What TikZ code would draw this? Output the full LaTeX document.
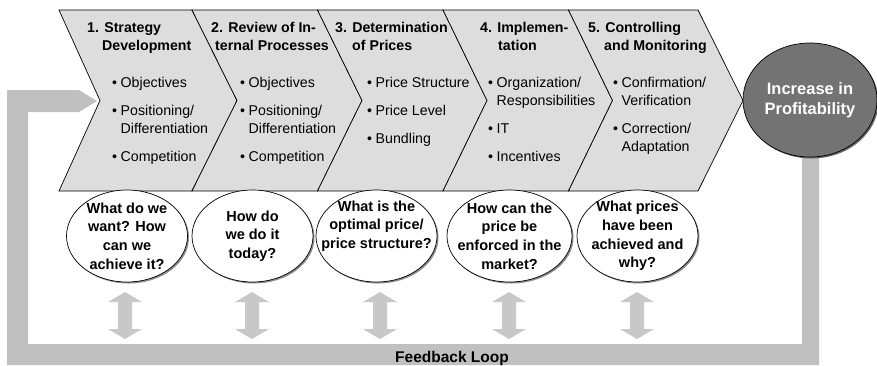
\documentclass[tikz,border=0pt]{standalone}
\usepackage{fontspec}
\setmainfont{Liberation Sans}
\usetikzlibrary{shapes.geometric,shadows}
\definecolor{chev}{HTML}{DDDDDD}
\definecolor{band}{HTML}{C0C0C0}
\definecolor{darr}{HTML}{C8C8C8}
\definecolor{prof}{HTML}{737373}
\newcommand{\lst}[1]{\begin{tabular}[t]{@{}l@{}}#1\end{tabular}}
\newcommand{\bu}{\makebox[8.5pt][l]{\textbullet}}
\newcommand{\bi}{\hspace*{8.5pt}}
\newcommand{\dblarrow}[2]{\fill[darr] (#1-7,302) -- (#1-17,302) -- (#1,292) -- (#1+17,302) -- (#1+7,302) -- (#1+7,329) -- (#1+17,329) -- (#1,339) -- (#1-17,329) -- (#1-7,329) -- cycle;}
\begin{document}
\begin{tikzpicture}[x=1pt,y=-1pt,
  chevbox/.style={fill=chev,draw=black,line width=0.7pt,line join=miter},
  hdtxt/.style={anchor=base west,inner sep=0pt,font=\fontsize{14.2}{18}\selectfont\bfseries},
  itm/.style={anchor=base west,inner sep=0pt,font=\fontsize{14.2}{18}\selectfont},
  qell/.style={ellipse,draw=black,fill=white,line width=0.7pt,minimum width=121pt,minimum height=92pt,inner sep=0pt,
    drop shadow={shadow xshift=1.5pt,shadow yshift=-1.5pt,fill=black!45,opacity=1}},
  qtext/.style={align=center,inner sep=0pt,font=\fontsize{14.5}{18.7}\selectfont\bfseries},
  profell/.style={ellipse,draw=black,fill=prof,line width=0.7pt,minimum width=134pt,minimum height=114pt,inner sep=0pt,
    align=center,text=white,font=\fontsize{16.5}{20}\selectfont\bfseries,
    drop shadow={shadow xshift=1.5pt,shadow yshift=-1.5pt,fill=black!60,opacity=1}},
  fbtxt/.style={anchor=base,inner sep=0pt,font=\fontsize{15.5}{18}\selectfont\bfseries}
]
\useasboundingbox (0,0) rectangle (877,365);
% feedback loop band
\fill[band] (7,90) -- (79,90) -- (97,101) -- (79,112) -- (28,112) -- (28,344) -- (802,344) -- (802,140) -- (819,140) -- (819,365) -- (7,365) -- cycle;
% chevrons
\draw[chevbox] (59,10) -- (192,10) -- (237,100.5) -- (192,191) -- (59,191) -- (100,100.5) -- cycle;
\draw[chevbox] (192,10) -- (317.5,10) -- (362,100.5) -- (317.5,191) -- (192,191) -- (237,100.5) -- cycle;
\draw[chevbox] (317.5,10) -- (443,10) -- (487,100.5) -- (443,191) -- (317.5,191) -- (362,100.5) -- cycle;
\draw[chevbox] (443,10) -- (568.5,10) -- (612.5,100.5) -- (568.5,191) -- (443,191) -- (487,100.5) -- cycle;
\draw[chevbox] (568.5,10) -- (698,10) -- (743,100.5) -- (698,191) -- (568.5,191) -- (612.5,100.5) -- cycle;
% chevron texts
\node[hdtxt] (h1) at (87,32) {\lst{1. Strategy\\\hspace*{15pt}Development}};
\node[itm] (a1) at (112,87) {\bu Objectives};
\node[itm] (b1) at (112,115) {\lst{\bu Positioning/\\\bi Differentiation}};
\node[itm] (c1) at (112,161) {\bu Competition};
\node[hdtxt] (h2) at (211,32) {\lst{2. Review of In-\\\hspace*{4pt}ternal Processes}};
\node[itm] (a2) at (240,87) {\bu Objectives};
\node[itm] (b2) at (240,115) {\lst{\bu Positioning/\\\bi Differentiation}};
\node[itm] (c2) at (240,161) {\bu Competition};
\node[hdtxt] (h3) at (335,32) {\lst{3. Determination\\\hspace*{17pt}of Prices}};
\node[itm] (a3) at (367,87) {\bu Price Structure};
\node[itm] (b3) at (367,115) {\bu Price Level};
\node[itm] (c3) at (367,143) {\bu Bundling};
\node[hdtxt] (h4) at (480,32) {\lst{4. Implemen-\\\hspace*{18pt}tation}};
\node[itm] (a4) at (488,87) {\lst{\bu Organization/\\\bi Responsibilities}};
\node[itm] (b4) at (488,133) {\bu IT};
\node[itm] (c4) at (488,161) {\bu Incentives};
\node[hdtxt] (h5) at (588,32) {\lst{5. Controlling\\\hspace*{16pt}and Monitoring}};
\node[itm] (a5) at (613,87) {\lst{\bu Confirmation/\\\bi Verification}};
\node[itm] (b5) at (613,133) {\lst{\bu Correction/\\\bi Adaptation}};
% result
\node[profell] (prof) at (810,100) {Increase in\\Profitability};
% question ellipses
\node[qell] (q1) at (127,236) {};
\node[qell] (q2) at (252.5,236) {};
\node[qell] (q3) at (376.5,236) {};
\node[qell,minimum width=125pt] (q4) at (509.5,236) {};
\node[qell] (q5) at (637.5,236) {};
\node[qtext] (t1) at (q1) {What do we\\want? How\\can we\\achieve it?};
\node[qtext] (t2) at (q2) {How do\\we do it\\today?};
\node[qtext] (t3) at ([yshift=10pt]q3.center) {What is the\\optimal price/\\price structure?};
\node[qtext] (t4) at (q4) {How can the\\price be\\enforced in the\\market?};
\node[qtext] (t5) at (q5) {What prices\\have been\\achieved and\\why?};
% double arrows
\dblarrow{125}{}
\dblarrow{252}{}
\dblarrow{380}{}
\dblarrow{509}{}
\dblarrow{637}{}
\node[fbtxt] (fb) at (452,362) {Feedback Loop};
\end{tikzpicture}
\end{document}
